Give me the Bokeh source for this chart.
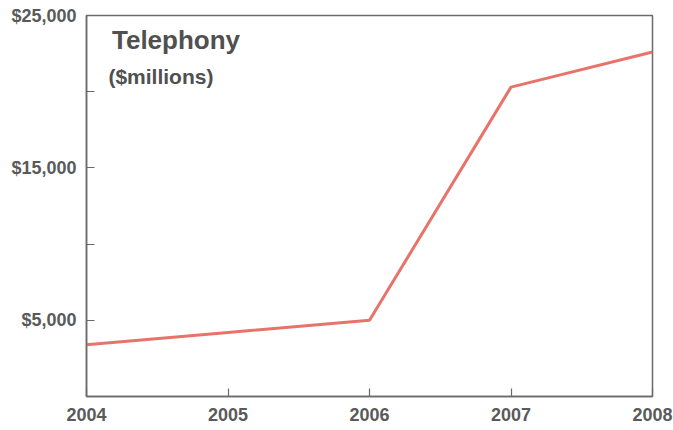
from bokeh.plotting import figure
from bokeh.models import FixedTicker, NumeralTickFormatter, Label, Range1d
from bokeh.embed import file_html
from bokeh.resources import INLINE

years = [2004, 2005, 2006, 2007, 2008]
telephony = [3400, 4200, 5000, 20300, 22600]
y_major = [5000, 15000, 25000]
y_minor = [0, 10000, 20000]

GREY = "#5a5a5a"
AXIS = "#6a6a6a"
FONT = "Liberation Sans"

p = figure(frame_width=566, frame_height=381, output_backend="svg", toolbar_location=None,
           x_range=Range1d(2004, 2008), y_range=Range1d(0, 25000),
           min_border_left=86, min_border_top=15, min_border_right=21, min_border_bottom=26)

p.line(years, telephony, line_color="#E8736A", line_width=3)

p.xgrid.visible = False
p.ygrid.visible = False
p.outline_line_color = AXIS
p.outline_line_width = 1.5
p.background_fill_color = "white"
p.border_fill_color = "white"

p.xaxis.ticker = FixedTicker(ticks=years)
p.yaxis.ticker = FixedTicker(ticks=y_major, minor_ticks=y_minor)
p.yaxis.formatter = NumeralTickFormatter(format="$0,0")

for ax in (p.xaxis[0], p.yaxis[0]):
    ax.axis_line_color = AXIS
    ax.axis_line_width = 1.5
    ax.major_tick_line_color = AXIS
    ax.major_tick_line_width = 1.2
    ax.minor_tick_line_color = AXIS
    ax.minor_tick_line_width = 1.2
    ax.major_tick_in = 8
    ax.major_tick_out = 0
    ax.minor_tick_in = 8
    ax.minor_tick_out = 0
    ax.major_label_text_font = FONT
    ax.major_label_text_font_style = "bold"
    ax.major_label_text_font_size = "18px"
    ax.major_label_text_color = GREY

p.xaxis.minor_tick_line_color = None
p.xaxis.major_label_standoff = 11
p.yaxis.major_label_standoff = 10

p.add_layout(Label(x=2004.18, y=23360, text="Telephony", text_font=FONT,
                   text_font_style="bold", text_font_size="26px", text_color="#505050",
                   text_baseline="alphabetic"))
p.add_layout(Label(x=2004.155, y=20997, text="($millions)", text_font=FONT,
                   text_font_style="bold", text_font_size="21px", text_color="#505050",
                   text_baseline="alphabetic"))

open("out.html", "w").write(file_html(p, INLINE))
